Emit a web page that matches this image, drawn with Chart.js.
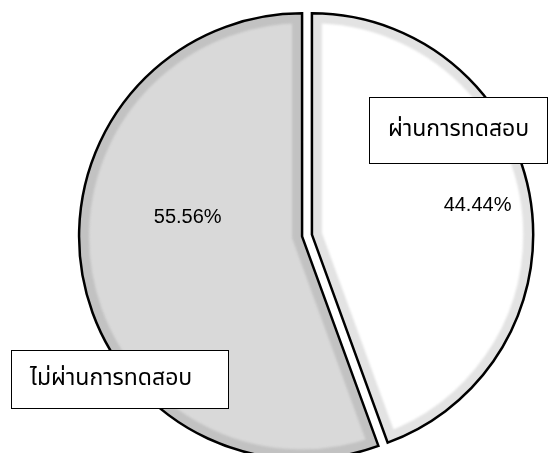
<!DOCTYPE html>
<html>
<head>
<meta charset="utf-8">
<script src="https://cdn.jsdelivr.net/npm/chart.js@4/dist/chart.umd.min.js"></script>
<style>
  html, body { margin: 0; padding: 0; background: #ffffff; }
  #wrap { width: 548px; height: 453px; }
</style>
</head>
<body>
<div id="wrap"><canvas id="pie" width="548" height="453"></canvas></div>
<script>
// Test result split (percent of candidates)
const categories = ['ผ่านการทดสอบ', 'ไม่ผ่านการทดสอบ'];
const percentages = [44.44, 55.56];

// Slice styling
const sliceFill = ['#ffffff', '#d9d9d9'];
const sliceBevel = ['#e3e3e3', '#c2c2c2'];
const bevelWidth = 10;

// Percentage label placement: [angle shift from slice middle (deg), fraction of radius]
const pctPlacement = [[0, 0.76], [19.5, 0.52]];
// Category callout boxes: [left, top, width, height]
const calloutBoxes = [[369, 97, 178, 66], [11, 350, 217, 58]];

const THAI_FONT = 'Tahoma, "Noto Sans Thai", "Noto Sans Thai UI", "Loma", "Garuda", "Norasi", sans-serif';

// geometry of a drawn arc, following ArcElement's own offset handling
function arcGeom(arc) {
  const off = (arc.options.offset || 0) / 4;
  const half = (arc.startAngle + arc.endAngle) / 2;
  const circ = arc.endAngle - arc.startAngle;
  const fix = 1 - Math.sin(Math.min(Math.PI, circ));
  return {
    cx: arc.x + Math.cos(half) * off,
    cy: arc.y + Math.sin(half) * off,
    r: arc.outerRadius + off * fix,
    half
  };
}

const bevelOutline = {
  id: 'bevelOutline',
  afterDatasetDraw(chart, args) {
    const ctx = chart.ctx;
    args.meta.data.forEach((arc, i) => {
      const g = arcGeom(arc);
      ctx.save();
      ctx.beginPath();
      ctx.moveTo(g.cx, g.cy);
      ctx.arc(g.cx, g.cy, g.r, arc.startAngle, arc.endAngle);
      ctx.closePath();
      ctx.save();
      ctx.clip();
      ctx.filter = 'blur(0.8px)';
      ctx.lineWidth = bevelWidth * 2;
      ctx.strokeStyle = sliceBevel[i];
      ctx.stroke();
      ctx.restore();
      ctx.lineJoin = 'miter';
      ctx.lineWidth = 2.5;
      ctx.strokeStyle = '#000000';
      ctx.stroke();
      ctx.restore();
    });
  }
};

const sliceLabels = {
  id: 'sliceLabels',
  afterDraw(chart) {
    const ctx = chart.ctx;
    const meta = chart.getDatasetMeta(0);
    ctx.save();
    ctx.fillStyle = '#000000';
    ctx.font = '20px "Liberation Sans", Arial, sans-serif';
    ctx.textAlign = 'center';
    ctx.textBaseline = 'middle';
    meta.data.forEach((arc, i) => {
      const g = arcGeom(arc);
      const a = g.half + pctPlacement[i][0] * Math.PI / 180;
      const d = g.r * pctPlacement[i][1];
      const v = chart.data.datasets[0].data[i];
      ctx.fillText(v.toFixed(2) + '%', g.cx + Math.cos(a) * d, g.cy + Math.sin(a) * d);
    });
    // category callouts
    ctx.font = '23px ' + THAI_FONT;
    ctx.textAlign = 'left';
    chart.data.labels.forEach((name, i) => {
      const [x, y, w, h] = calloutBoxes[i];
      ctx.fillStyle = '#ffffff';
      ctx.fillRect(x, y, w, h);
      ctx.lineWidth = 1;
      ctx.strokeStyle = '#000000';
      ctx.strokeRect(x + 0.5, y + 0.5, w, h);
      ctx.fillStyle = '#000000';
      ctx.fillText(name, x + 19, y + h / 2 + 1);
    });
    ctx.restore();
  }
};

new Chart(document.getElementById('pie'), {
  type: 'pie',
  data: {
    labels: categories,
    datasets: [{
      data: percentages,
      backgroundColor: sliceFill,
      borderWidth: 0,
      offset: 20
    }]
  },
  options: {
    responsive: false,
    animation: false,
    radius: 218,
    clip: false,
    layout: { padding: { left: 66, right: 0, top: 18, bottom: 0 } },
    plugins: {
      legend: { display: false },
      tooltip: { enabled: false },
      title: { display: false }
    }
  },
  plugins: [bevelOutline, sliceLabels]
});
</script>
</body>
</html>
